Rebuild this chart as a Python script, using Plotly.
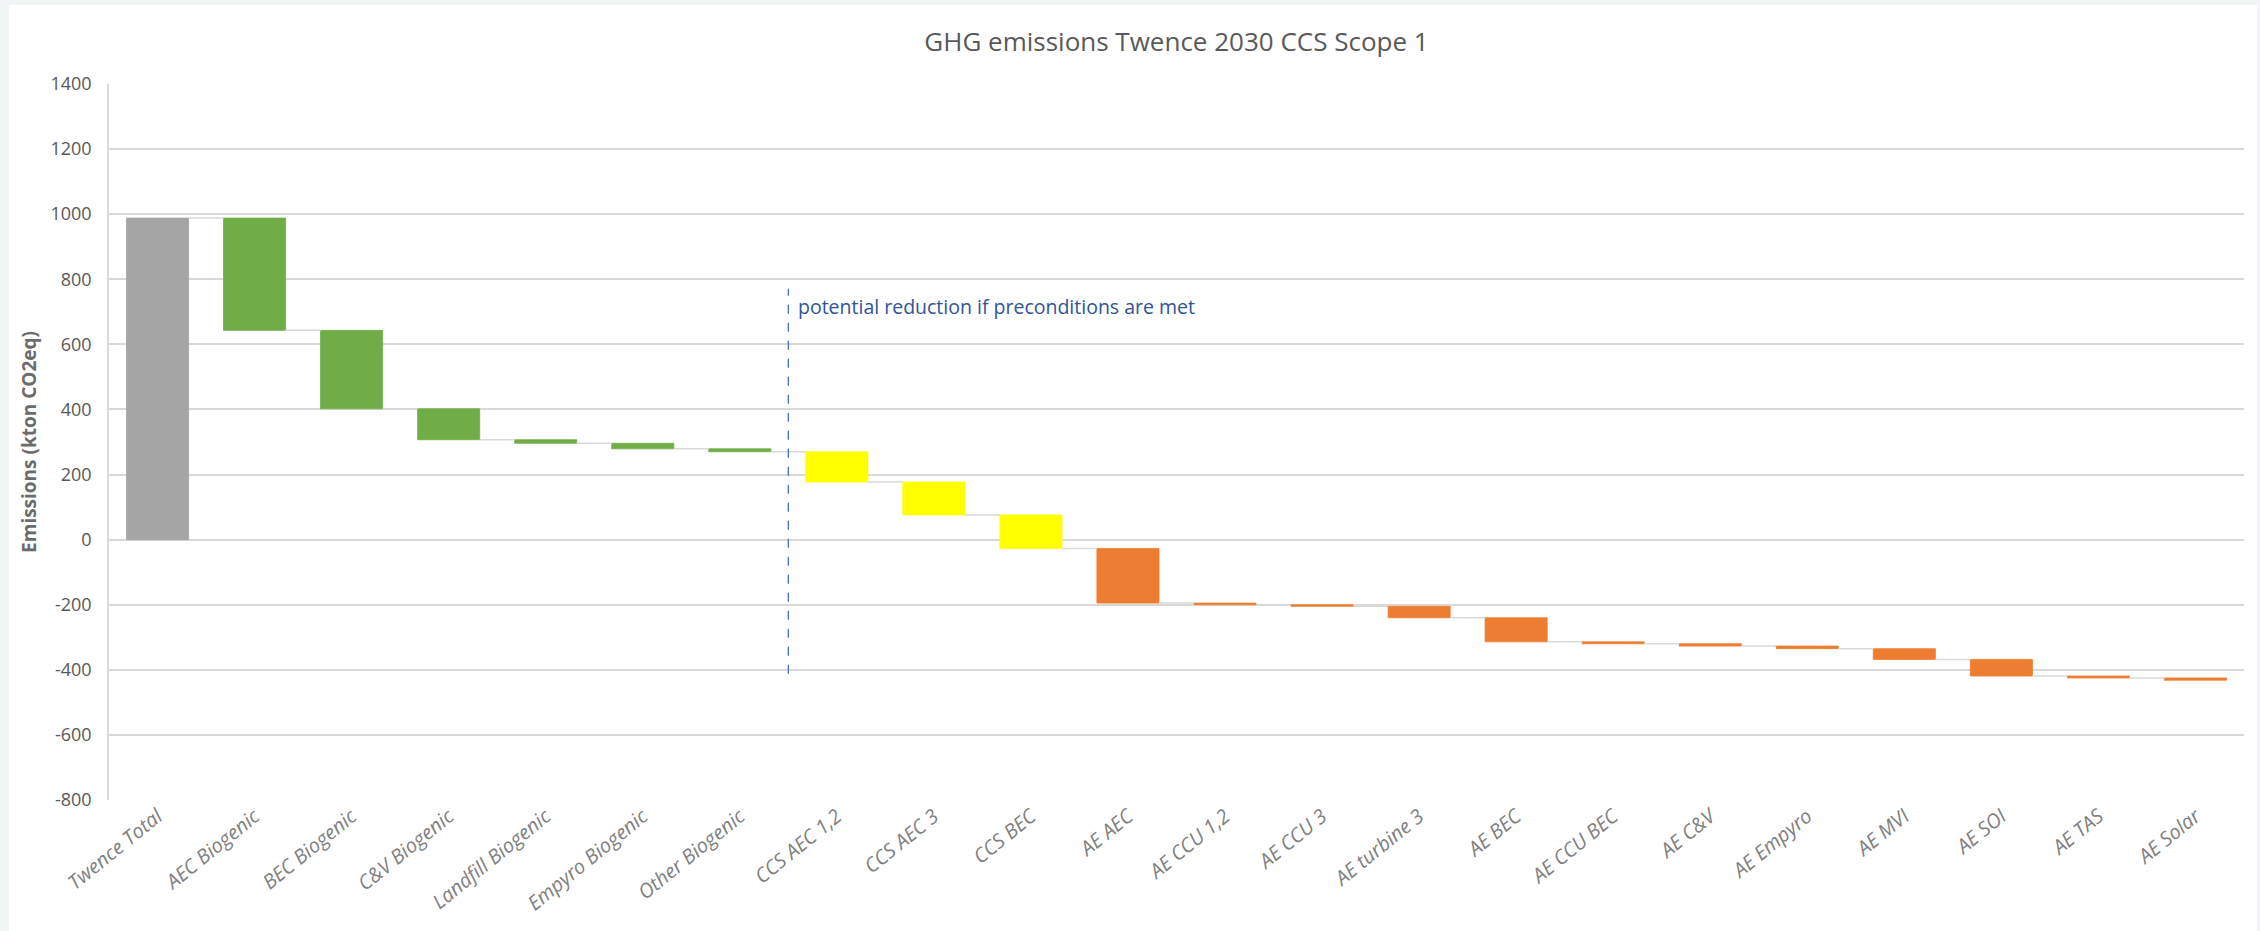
import plotly.graph_objects as go

categories = ["Twence Total", "AEC Biogenic", "BEC Biogenic", "C&V Biogenic", "Landfill Biogenic",
              "Empyro Biogenic", "Other Biogenic", "CCS AEC 1,2", "CCS AEC 3", "CCS BEC",
              "AE AEC", "AE CCU 1,2", "AE CCU 3", "AE turbine 3", "AE BEC", "AE CCU BEC",
              "AE C&V", "AE Empyro", "AE MVI", "AE SOI", "AE TAS", "AE Solar"]
values = [988, -345, -241, -95, -11, -17, -9, -93, -101, -103,
          -168, -5, -5, -35, -74, -6, -7, -8, -33, -51, -6, -7]
groups = ["total"] + ["biogenic"] * 6 + ["ccs"] * 3 + ["ae"] * 12
group_colors = {"total": "#A5A5A5", "biogenic": "#70AD47", "ccs": "#FFFF00", "ae": "#ED7D31"}
y_ticks = [-800, -600, -400, -200, 0, 200, 400, 600, 800, 1000, 1200, 1400]
title_text = "GHG emissions Twence 2030 CCS Scope 1"
y_title = "Emissions (kton CO2eq)"
note_text = "potential reduction if preconditions are met"
note_y = 716
divider_y = [-412, 771]

BAR_W = 0.64
FONT = "Open Sans, sans-serif"
PAGE_BG = "#F2F5F6"

# cumulative levels
ends, starts = [], []
level = 0
for v, g in zip(values, groups):
    if g == "total":
        starts.append(0)
        level = v
    else:
        starts.append(level)
        level = level + v
    ends.append(level)

xs = list(range(len(categories)))
bases = [min(s, e) for s, e in zip(starts, ends)]
heights = [abs(e - s) for s, e in zip(starts, ends)]
colors = [group_colors[g] for g in groups]

fig = go.Figure()

# connectors
cx, cy = [], []
for i in range(len(categories) - 1):
    cx += [xs[i] + BAR_W / 2, xs[i + 1] - BAR_W / 2, None]
    cy += [ends[i], ends[i], None]
fig.add_trace(go.Scatter(x=cx, y=cy, mode="lines", line=dict(color="#D9D9D9", width=1.5),
                         hoverinfo="skip", showlegend=False))

fig.add_trace(go.Bar(x=xs, y=heights, base=bases, width=BAR_W,
                     marker=dict(color=colors, line=dict(color=colors, width=0.8)),
                     showlegend=False))

div_x = categories.index("CCS AEC 1,2") - 0.5
fig.add_shape(type="line", xref="x", yref="y", x0=div_x, x1=div_x, y0=divider_y[0], y1=divider_y[1],
              line=dict(color="#4472C4", width=1.3, dash="dash"))
fig.add_annotation(x=div_x + 0.08, y=note_y, xref="x", yref="y", text=note_text, showarrow=False,
                   xanchor="left", yanchor="middle", font=dict(family=FONT, size=19.5, color="#2F5597"))

# white card background
fig.add_shape(type="rect", xref="paper", yref="paper", x0=-0.0468, x1=1.0061, y0=-0.2, y1=1.1103,
              fillcolor="white", line=dict(width=0), layer="below")

fig.update_layout(
    width=2260, height=931,
    margin=dict(l=109, r=16, t=84, b=131, autoexpand=False),
    paper_bgcolor=PAGE_BG, plot_bgcolor="white",
    title=dict(text=title_text, x=0.5, xref="paper", xanchor="center", y=1 - 42 / 931, yanchor="middle",
               font=dict(family=FONT, size=26, color="#595959")),
    font=dict(family=FONT, color="#595959"),
    bargap=0.36,
)
fig.update_xaxes(range=[-0.5, len(categories) - 0.5], tickmode="array", tickvals=xs,
                 ticktext=["<i>" + c + "</i>" for c in categories], tickangle=-39,
                 tickfont=dict(family=FONT, size=20, color="#808080"), automargin=False,
                 showgrid=False, showline=False, zeroline=False, ticks="")
fig.update_yaxes(range=[-800, 1400], tickmode="array", tickvals=y_ticks,
                 ticktext=[str(t) for t in y_ticks], automargin=False,
                 tickfont=dict(family=FONT, size=18, color="#595959"),
                 showgrid=True, gridcolor="#D9D9D9", gridwidth=1.5,
                 zeroline=True, zerolinecolor="#D9D9D9", zerolinewidth=1.5,
                 showline=True, linecolor="#D9D9D9", linewidth=1.5, ticks="", ticklabelstandoff=12,
                 title=dict(text="<b>" + y_title + "</b>", standoff=9,
                            font=dict(family=FONT, size=19, color="#6b6b6b")))

fig.write_html("out.html", config={"displayModeBar": False},
               post_script="document.body.style.margin='0';document.body.style.background='%s';" % PAGE_BG)
